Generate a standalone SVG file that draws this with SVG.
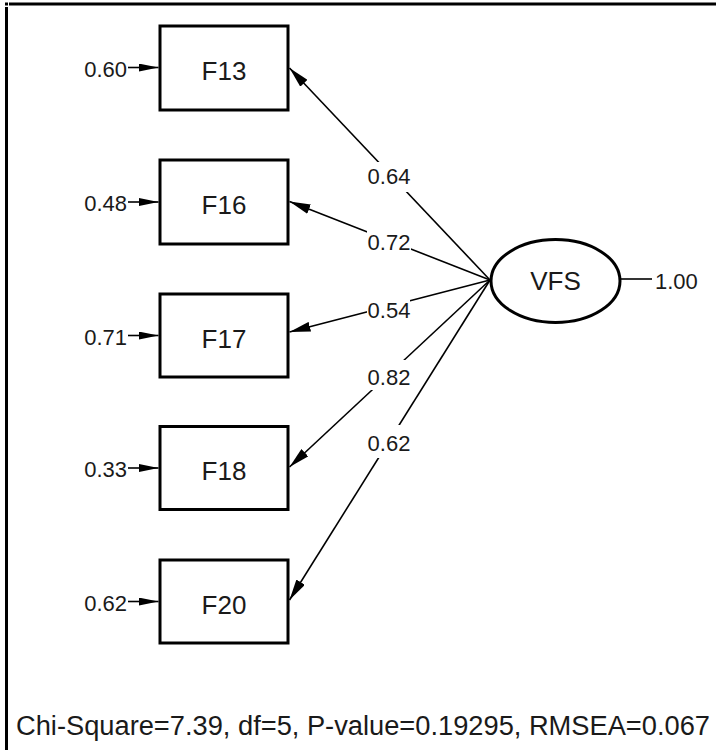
<svg xmlns="http://www.w3.org/2000/svg" width="716" height="750" viewBox="0 0 716 750">
<defs>
<style>
.box{fill:#fff;stroke:#000;stroke-width:3}
.lbl{font-family:"Liberation Sans",Arial,sans-serif;font-size:26px;fill:#1a1a1a;text-anchor:middle}
.num{font-family:"Liberation Sans",Arial,sans-serif;font-size:22px;fill:#1a1a1a}
.ln{stroke:#000;stroke-width:1.6;fill:none}
.bg{fill:#fff}
</style>
<marker id="ah" viewBox="0 0 21 10" refX="21" refY="5" markerWidth="21" markerHeight="10" markerUnits="userSpaceOnUse" orient="auto">
<path d="M0,0 L21,5 L0,10 z" fill="#000"/>
</marker>
<marker id="eh" viewBox="0 0 20 8" refX="20" refY="4" markerWidth="20" markerHeight="8" markerUnits="userSpaceOnUse" orient="auto">
<path d="M0,0 L20,4 L0,8 z" fill="#000"/>
</marker>
</defs>
<rect width="716" height="750" fill="#fff"/>
<g id="frame">
<rect x="5" y="2.5" width="3" height="3" fill="#000"/>
<rect x="9" y="2.5" width="707" height="3" fill="#000"/>
<rect x="5" y="7" width="3" height="743" fill="#000"/>
</g>
<g id="connectors">
<line class="ln" x1="490" y1="280" x2="289.5" y2="68" marker-end="url(#ah)"/>
<line class="ln" x1="490" y1="280" x2="289.5" y2="201.5" marker-end="url(#ah)"/>
<line class="ln" x1="490" y1="280" x2="289.5" y2="332" marker-end="url(#ah)"/>
<line class="ln" x1="490" y1="280" x2="289.5" y2="467" marker-end="url(#ah)"/>
<line class="ln" x1="490" y1="280" x2="289.5" y2="600" marker-end="url(#ah)"/>
<line class="ln" x1="620" y1="279" x2="652" y2="279"/>
<line class="ln" x1="128" y1="67.5" x2="158.5" y2="67.5" marker-end="url(#eh)"/>
<line class="ln" x1="128" y1="202" x2="158.5" y2="202" marker-end="url(#eh)"/>
<line class="ln" x1="128" y1="335.5" x2="158.5" y2="335.5" marker-end="url(#eh)"/>
<line class="ln" x1="128" y1="468" x2="158.5" y2="468" marker-end="url(#eh)"/>
<line class="ln" x1="128" y1="601.5" x2="158.5" y2="601.5" marker-end="url(#eh)"/>
<rect class="bg" x="367" y="162" width="44" height="30"/>
<rect class="bg" x="367" y="230" width="44" height="20"/>
<rect class="bg" x="367" y="300" width="43" height="13"/>
<rect class="bg" x="367" y="360" width="44" height="30"/>
<rect class="bg" x="367" y="425" width="44" height="33"/>
<text class="num" x="389" y="184" text-anchor="middle">0.64</text>
<text class="num" x="389" y="250" text-anchor="middle">0.72</text>
<text class="num" x="389" y="318" text-anchor="middle">0.54</text>
<text class="num" x="389" y="385" text-anchor="middle">0.82</text>
<text class="num" x="389" y="451" text-anchor="middle">0.62</text>
<text class="num" x="655" y="289">1.00</text>
<text class="num" x="127" y="77" text-anchor="end">0.60</text>
<text class="num" x="127" y="211" text-anchor="end">0.48</text>
<text class="num" x="127" y="344.5" text-anchor="end">0.71</text>
<text class="num" x="127" y="477" text-anchor="end">0.33</text>
<text class="num" x="127" y="610.5" text-anchor="end">0.62</text>
</g>
<g id="F13"><rect class="box" x="160" y="26" width="128" height="84"/><text class="lbl" x="224" y="80">F13</text></g>
<g id="F16"><rect class="box" x="160" y="160" width="128" height="84"/><text class="lbl" x="224" y="214">F16</text></g>
<g id="F17"><rect class="box" x="160" y="294" width="128" height="83"/><text class="lbl" x="224" y="347.5">F17</text></g>
<g id="F18"><rect class="box" x="160" y="426.5" width="128" height="83"/><text class="lbl" x="224" y="480">F18</text></g>
<g id="F20"><rect class="box" x="160" y="560" width="128" height="83"/><text class="lbl" x="224" y="613.5">F20</text></g>
<g id="VFS"><ellipse cx="555.5" cy="281" rx="64.5" ry="41.5" fill="#fff" stroke="#000" stroke-width="3"/><text class="lbl" x="555.5" y="290">VFS</text></g>
<text x="16" y="735" textLength="694" lengthAdjust="spacingAndGlyphs" style="font-family:'Liberation Sans',Arial,sans-serif;font-size:27px;fill:#1a1a1a">Chi-Square=7.39, df=5, P-value=0.19295, RMSEA=0.067</text>
</svg>
